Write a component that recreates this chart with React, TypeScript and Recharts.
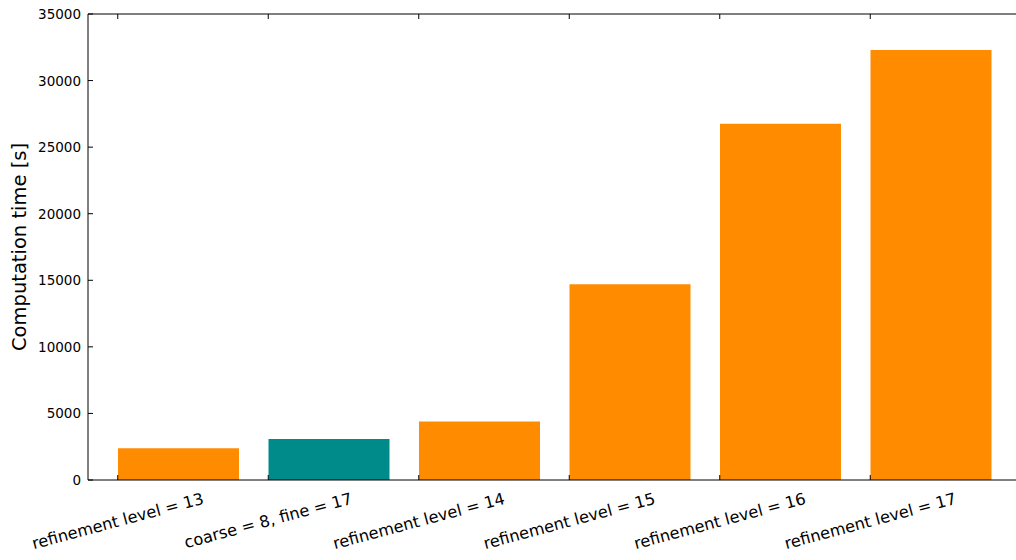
import React from 'react';
import { BarChart, Bar, Cell, XAxis, YAxis } from 'recharts';

const categories = [
  'refinement level = 13',
  'coarse = 8, fine = 17',
  'refinement level = 14',
  'refinement level = 15',
  'refinement level = 16',
  'refinement level = 17',
];
const computeTimes = [2380, 3080, 4400, 14700, 26750, 32300];
const barColors = ['#ff8c00', '#008b8b', '#ff8c00', '#ff8c00', '#ff8c00', '#ff8c00'];
const yTicks = [0, 5000, 10000, 15000, 20000, 25000, 30000, 35000];

const data = categories.map((name, i) => ({ name, time: computeTimes[i] }));

const FONT = '"DejaVu Sans", sans-serif';
const BAR_SIZE = 121;
const TICK_LEN = 5;
const ROT = 15;

// ticks sit on the left edge of each bar
const edge = (x: number) => x - BAR_SIZE / 2;

let measureCtx: CanvasRenderingContext2D | null = null;
const textWidth = (s: string, size: number) => {
  if (!measureCtx) measureCtx = document.createElement('canvas').getContext('2d');
  if (!measureCtx) return s.length * size * 0.55;
  measureCtx.font = `${size}px "DejaVu Sans"`;
  return measureCtx.measureText(s).width;
};

const BottomTick = (props: any) => {
  const { x, y, payload } = props;
  const tx = edge(x);
  const size = 16.2;
  const rad = (ROT * Math.PI) / 180;
  const w = textWidth(payload.value, size);
  const boxH = w * Math.sin(rad) + size * 1.17 * Math.cos(rad);
  const cy = y + 9 + boxH / 2;
  return (
    <g>
      <line x1={tx} x2={tx} y1={y} y2={y - TICK_LEN} stroke="#000" />
      <text
        x={tx}
        y={cy}
        textAnchor="middle"
        dominantBaseline="central"
        fontSize={size}
        fontFamily={FONT}
        fill="#000"
        transform={`rotate(-${ROT} ${tx} ${cy})`}
      >
        {payload.value}
      </text>
    </g>
  );
};

const TopTick = (props: any) => {
  const { x, y } = props;
  const tx = edge(x);
  return <line x1={tx} x2={tx} y1={y} y2={y + TICK_LEN} stroke="#000" />;
};

const LeftTick = (props: any) => {
  const { x, y, payload } = props;
  return (
    <g>
      <line x1={x} x2={x + TICK_LEN} y1={y} y2={y} stroke="#000" />
      <text
        x={x - 7}
        y={y}
        textAnchor="end"
        dominantBaseline="central"
        fontSize={13.5}
        fontFamily={FONT}
        fill="#000"
      >
        {payload.value}
      </text>
    </g>
  );
};

const RightTick = (props: any) => {
  const { x, y } = props;
  return <line x1={x} x2={x - TICK_LEN} y1={y} y2={y} stroke="#000" />;
};

export default function App() {
  return (
    <div style={{ width: 1016, height: 560, overflow: 'hidden', position: 'relative', background: '#fff' }}>
      <style>{'body{margin:0;overflow:hidden}'}</style>
      <BarChart
        width={1024}
        height={560}
        data={data}
        margin={{ top: 13, right: 3, bottom: 79, left: 0 }}
      >
        <XAxis
          dataKey="name"
          xAxisId="bottom"
          orientation="bottom"
          height={1}
          padding={{ left: 15, right: 14 }}
          axisLine={{ stroke: '#000' }}
          tickLine={false}
          tickSize={0}
          tickMargin={0}
          interval={0}
          tick={<BottomTick />}
        />
        <XAxis
          dataKey="name"
          xAxisId="top"
          orientation="top"
          height={1}
          padding={{ left: 15, right: 14 }}
          axisLine={{ stroke: '#000' }}
          tickLine={false}
          tickSize={0}
          tickMargin={0}
          interval={0}
          tick={<TopTick />}
        />
        <YAxis
          yAxisId="left"
          orientation="left"
          width={88}
          domain={[0, 35000]}
          ticks={yTicks}
          interval={0}
          axisLine={{ stroke: '#000' }}
          tickLine={false}
          tickSize={0}
          tickMargin={0}
          tick={<LeftTick />}
          label={{
            value: 'Computation time [s]',
            content: () => (
              <text
                x={26}
                y={247}
                textAnchor="middle"
                fontSize={19.5}
                fontFamily={FONT}
                fill="#000"
                transform="rotate(-90 26 247)"
              >
                Computation time [s]
              </text>
            ),
          }}
        />
        <YAxis
          yAxisId="right"
          orientation="right"
          width={1}
          domain={[0, 35000]}
          ticks={yTicks}
          interval={0}
          axisLine={{ stroke: '#000' }}
          tickLine={false}
          tickSize={0}
          tickMargin={0}
          tick={<RightTick />}
        />
        <Bar
          dataKey="time"
          xAxisId="bottom"
          yAxisId="left"
          barSize={BAR_SIZE}
          isAnimationActive={false}
        >
          {data.map((d, i) => (
            <Cell key={d.name} fill={barColors[i]} />
          ))}
        </Bar>
      </BarChart>
    </div>
  );
}
